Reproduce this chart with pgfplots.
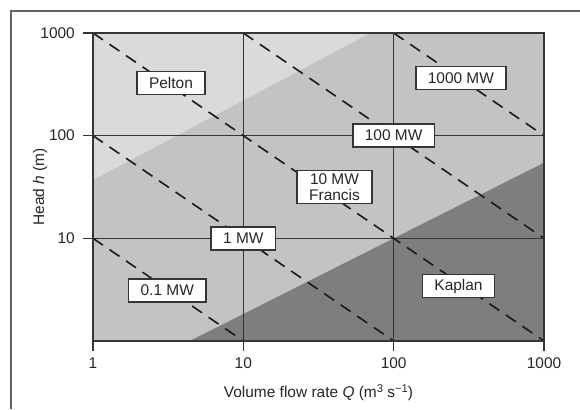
\documentclass[border=0pt]{standalone}
\usepackage{pgfplots}
\pgfplotsset{compat=1.18}
\usepackage{fontspec}
\setmainfont{Liberation Sans}

% 1 px of the reference = 0.025cm
\definecolor{pelton}{HTML}{DADADA}
\definecolor{francis}{HTML}{C3C3C3}
\definecolor{kaplan}{HTML}{7E7E7E}
\definecolor{gridc}{HTML}{353535}

\tikzset{
	boxlab/.style	= {draw=gridc, line width=0.04cm, fill=white, text=black!85,
		font=\fontsize{11}{13}\selectfont, inner xsep=0.3cm, inner ysep=0.05cm,
		minimum height=0.575cm, align=center},
}

\begin{document}
\begin{tikzpicture}
	\useasboundingbox (0,0) rectangle (14.5cm,10.225cm);
	% outer frame (only left and top edges visible)
	\draw[color=gray!80!black, line width=0.04cm] (0.275cm,0) -- (0.275cm,9.95cm) -- (14.5cm,9.95cm);

	\begin{axis}[
		at				= {(2.325cm,1.7cm)},
		anchor			= south west,
		scale only axis,
		width			= 11.275cm,
		height			= 7.7cm,
		xmode			= log,
		ymode			= log,
		xmin			= 1, xmax = 1000,
		ymin			= 1, ymax = 1000,
		xtick			= {1,10,100,1000},
		xticklabels		= {1,10,100,1000},
		ytick			= {10,100,1000},
		yticklabels		= {10,100,1000},
		minor tick num	= 0,
		subtickwidth	= 0pt,
		tick align		= outside,
		major tick length = 0.25cm,
		xtick pos		= bottom,
		ytick pos		= left,
		axis on top,
		axis line style	= {gridc, line width=0.035cm},
		every tick/.style = {gridc, line width=0.035cm},
		tick label style = {font=\fontsize{11}{13}\selectfont, text=black!85},
		xticklabel style = {yshift=-0.05cm},
		yticklabel style = {xshift=-0.08cm},
		xlabel			= {Volume flow rate \textit{Q} (m\raisebox{0.6ex}{\fontsize{8}{9}\selectfont 3} s\raisebox{0.6ex}{\fontsize{8}{9}\selectfont −1})},
		ylabel			= {Head \textit{h} (m)},
		label style		= {font=\fontsize{11}{13}\selectfont, text=black!85},
		xlabel style	= {at={(axis description cs:0.5,-0.169)}, anchor=center},
		ylabel style	= {at={(axis description cs:-0.1175,0.5)}, anchor=center},
		clip			= true,
	]

		% regions: Francis background, Pelton upper left, Kaplan lower right
		\addplot[draw=none, fill=francis] coordinates {(1,1) (1000,1) (1000,1000) (1,1000)} -- cycle;
		\addplot[draw=none, fill=pelton] coordinates {(1,37) (70,1000) (1,1000)} -- cycle;
		\addplot[draw=none, fill=kaplan] coordinates {(4.4,1) (100,10) (1000,54.5) (1000,1)} -- cycle;

		% decade grid lines
		\addplot[gridc, line width=0.035cm] coordinates {(10,1) (10,1000)};
		\addplot[gridc, line width=0.035cm] coordinates {(100,1) (100,1000)};
		\addplot[gridc, line width=0.035cm] coordinates {(1,10) (1000,10)};
		\addplot[gridc, line width=0.035cm] coordinates {(1,100) (1000,100)};

		% lines of constant power
		\addplot[black!90, line width=0.04cm, dash pattern=on 0.3cm off 0.2cm] coordinates {(1,10) (10,1)};
		\addplot[black!90, line width=0.04cm, dash pattern=on 0.3cm off 0.2cm] coordinates {(1,100) (100,1)};
		\addplot[black!90, line width=0.04cm, dash pattern=on 0.3cm off 0.2cm] coordinates {(1,1000) (1000,1)};
		\addplot[black!90, line width=0.04cm, dash pattern=on 0.3cm off 0.2cm] coordinates {(10,1000) (1000,10)};
		\addplot[black!90, line width=0.04cm, dash pattern=on 0.3cm off 0.2cm] coordinates {(100,1000) (1000,100)};

		\node[boxlab] at (axis cs:3.3,325) {Pelton};
		\node[boxlab] at (axis cs:280,364) {1000 MW};
		\node[boxlab] at (axis cs:100,100) {100 MW};
		\node[boxlab, inner ysep=0.07cm] at (axis cs:40.4,31.6) {10 MW\\[-0.05cm]Francis};
		\node[boxlab] at (axis cs:10,10) {1 MW};
		\node[boxlab] at (axis cs:3.12,3.1) {0.1 MW};
		\node[boxlab] at (axis cs:270,3.43) {Kaplan};

	\end{axis}
\end{tikzpicture}
\end{document}
